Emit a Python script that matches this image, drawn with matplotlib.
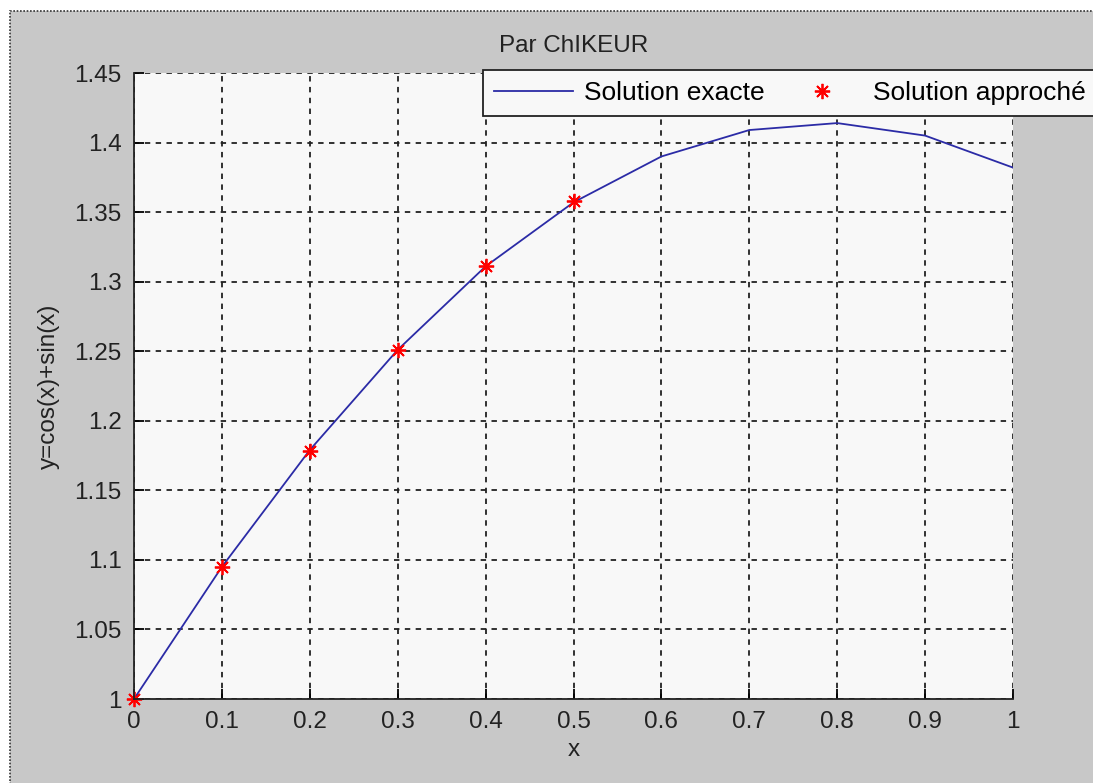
import numpy as np
import matplotlib.pyplot as plt
from matplotlib.patches import Rectangle

# exact curve, sampled every 0.1
x_exact = [0.0, 0.1, 0.2, 0.3, 0.4, 0.5, 0.6, 0.7, 0.8, 0.9, 1.0]
y_exact = [1.0, 1.095, 1.179, 1.251, 1.311, 1.357, 1.390, 1.409, 1.414, 1.405, 1.382]

# approximated points
x_approx = [0.0, 0.1, 0.2, 0.3, 0.4, 0.5]
y_approx = [1.0, 1.095, 1.178, 1.251, 1.311, 1.358]

xticks = [0, 0.1, 0.2, 0.3, 0.4, 0.5, 0.6, 0.7, 0.8, 0.9, 1]
xtick_labels = ["0", "0.1", "0.2", "0.3", "0.4", "0.5", "0.6", "0.7", "0.8", "0.9", "1"]
yticks = [1, 1.05, 1.1, 1.15, 1.2, 1.25, 1.3, 1.35, 1.4, 1.45]
ytick_labels = ["1", "1.05", "1.1", "1.15", "1.2", "1.25", "1.3", "1.35", "1.4", "1.45"]

plt.rcParams['font.family'] = ['Liberation Sans', 'DejaVu Sans']
fs = 17.5

W, H = 1093, 783
fig = plt.figure(figsize=(W / 100, H / 100), dpi=100, facecolor='white')

# gray window background with dotted frame (left and top only visible)
bg = Rectangle((10 / W, -0.05), 1.2, 1.05 - 11 / H, transform=fig.transFigure,
               facecolor='#c8c8c8', edgecolor='#333333', linewidth=1.2,
               linestyle=(0, (1, 1)), zorder=-10)
fig.patches.append(bg)

ax = fig.add_axes([134 / W, 1 - 699 / H, (1013 - 134) / W, (699 - 73) / H])
ax.set_facecolor('#f8f8f8')

ax.plot(x_exact, y_exact, color='#2b2ba6', linewidth=1.3, label='Solution exacte')
ax.plot(x_approx, y_approx, linestyle='none', marker=(8, 2, 0), color='red',
        markersize=11, markeredgewidth=1.3, label='Solution approché', clip_on=False)

ax.set_xlim(0, 1)
ax.set_ylim(1, 1.45)
ax.set_xticks(xticks)
ax.set_xticklabels(xtick_labels)
ax.set_yticks(yticks)
ax.set_yticklabels(ytick_labels)

ax.grid(True, color='#222222', linestyle=(0, (3, 3)), linewidth=1.3)
for s in ['top', 'right']:
    ax.spines[s].set_visible(False)
for s in ['left', 'bottom']:
    ax.spines[s].set_linewidth(1.3)
    ax.spines[s].set_color('#222222')
ax.tick_params(direction='in', length=7, width=1.3, labelsize=fs,
               labelcolor='#222222')
ax.tick_params(axis='x', pad=9)
ax.tick_params(axis='y', pad=9)

ax.set_xlabel('x', fontsize=fs, color='#222222', labelpad=4)
ax.set_ylabel('y=cos(x)+sin(x)', fontsize=fs, color='#222222', labelpad=10)
ax.set_title('Par ChIKEUR', fontsize=fs, color='#222222', pad=15)

# legend runs off the right edge like in the original window
leg = fig.legend(loc='upper left', bbox_to_anchor=(483 / W, 1 - 70 / H), ncol=2,
                 fontsize=19, frameon=True, fancybox=False, framealpha=1,
                 edgecolor='#222222', handlelength=3.0, columnspacing=0.7,
                 borderpad=0.42, borderaxespad=0, handletextpad=0.4)
leg.get_frame().set_linewidth(1.3)
leg.get_frame().set_facecolor('#f8f8f8')

fig.savefig('out.png', dpi=100, facecolor=fig.get_facecolor())
